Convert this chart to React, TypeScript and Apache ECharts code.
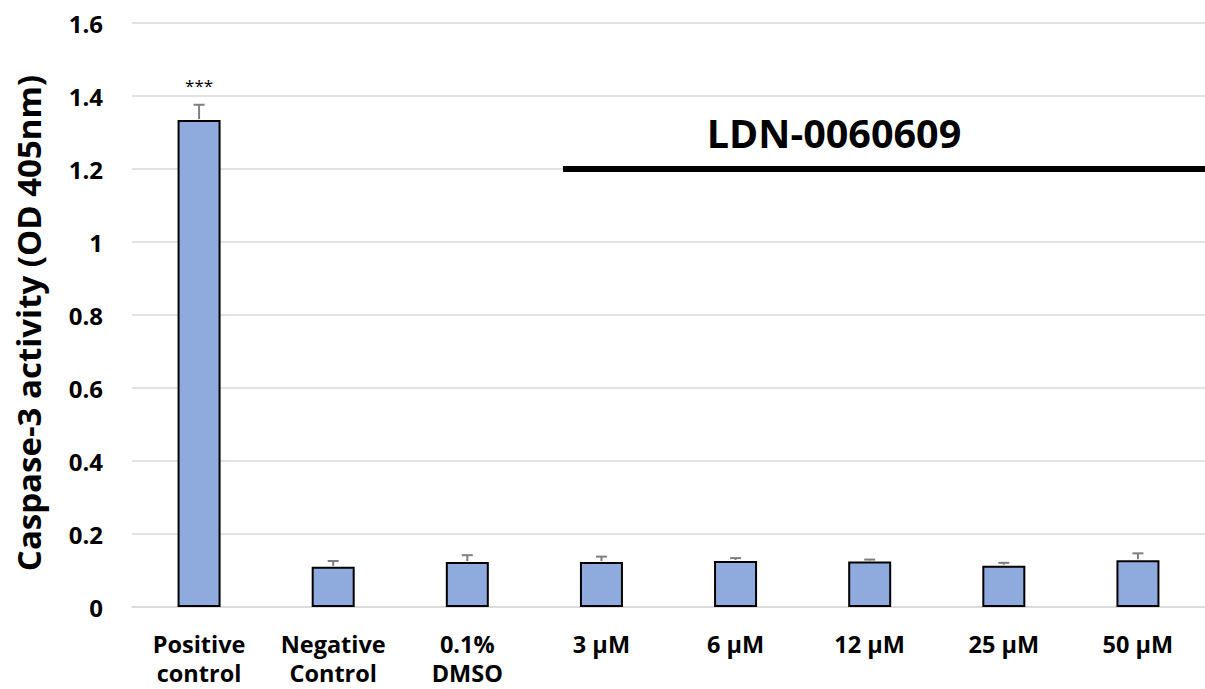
import React, { useEffect, useRef } from "react";
import * as echarts from "echarts";

// Caspase-3 activity per treatment group (mean and SD, OD 405nm)
const categories = [
  "Positive\ncontrol",
  "Negative\nControl",
  "0.1%\nDMSO",
  "3 µM",
  "6 µM",
  "12 µM",
  "25 µM",
  "50 µM",
];
const means = [1.334, 0.11, 0.123, 0.123, 0.126, 0.125, 0.113, 0.128];
const errors = [0.042, 0.016, 0.019, 0.015, 0.008, 0.005, 0.008, 0.019];
const significance = ["***", "", "", "", "", "", "", ""];
const yTicks = { min: 0, max: 1.6, interval: 0.2 };
const compoundName = "LDN-0060609";
const yAxisTitle = "Caspase-3 activity (OD 405nm)";

const FONT = "'Open Sans', 'Noto Sans', sans-serif";

export default function App() {
  const ref = useRef<HTMLDivElement>(null);

  useEffect(() => {
    if (!ref.current) return;
    const chart = echarts.init(ref.current, null, { renderer: "svg" });

    const errorData = categories.map((_, i) => [i, means[i], errors[i]]);

    chart.setOption({
      animation: false,
      backgroundColor: "#ffffff",
      grid: { left: 132, right: 0, top: 23, bottom: 82 },
      xAxis: {
        type: "category",
        data: categories,
        axisLine: { show: true, lineStyle: { color: "#d9d9d9", width: 1.5 } },
        axisTick: { show: false },
        axisLabel: {
          interval: 0,
          margin: 22,
          color: "#000",
          fontFamily: FONT,
          fontWeight: "bold",
          fontSize: 23.5,
          lineHeight: 29,
          verticalAlign: "top",
        },
      },
      yAxis: {
        type: "value",
        min: yTicks.min,
        max: yTicks.max,
        interval: yTicks.interval,
        axisLine: { show: false },
        axisTick: { show: false },
        splitLine: { lineStyle: { color: "#d9d9d9", width: 1.5 } },
        axisLabel: {
          margin: 29,
          color: "#000",
          fontFamily: FONT,
          fontWeight: "bold",
          fontSize: 24,
        },
      },
      series: [
        {
          type: "bar",
          data: means,
          barWidth: 43,
          itemStyle: { color: "#8faadc", borderColor: "#000", borderWidth: 2 },
          z: 2,
        },
        {
          type: "custom",
          data: errorData,
          encode: { x: 0, y: 1 },
          z: 3,
          renderItem: (params: any, api: any) => {
            const i = api.value(0);
            const m = api.value(1);
            const e = api.value(2);
            const base = api.coord([i, m]);
            const top = api.coord([i, m + e]);
            const stroke = { stroke: "#7f7f7f", lineWidth: 2 };
            const children: any[] = [
              {
                type: "line",
                shape: { x1: base[0], y1: base[1] - 1, x2: top[0], y2: top[1] },
                style: stroke,
              },
              {
                type: "line",
                shape: { x1: top[0] - 5.5, y1: top[1], x2: top[0] + 5.5, y2: top[1] },
                style: stroke,
              },
            ];
            const mark = significance[params.dataIndex];
            if (mark) {
              children.push({
                type: "text",
                x: top[0],
                y: top[1] - 19,
                style: {
                  text: mark,
                  fill: "#000",
                  font: `17px ${FONT}`,
                  textAlign: "center",
                  textVerticalAlign: "middle",
                },
              });
            }
            return { type: "group", children };
          },
        },
      ],
      graphic: [
        {
          type: "text",
          x: 28,
          y: 323,
          z: 100,
          rotation: Math.PI / 2,
          style: {
            text: yAxisTitle,
            fill: "#000",
            font: `bold 33px ${FONT}`,
            textAlign: "center",
            textVerticalAlign: "middle",
          },
        },
        {
          type: "rect",
          z: 100,
          shape: { x: 563, y: 166, width: 642, height: 6 },
          style: { fill: "#000" },
        },
        {
          type: "text",
          x: 834,
          y: 133,
          z: 100,
          style: {
            text: compoundName,
            fill: "#000",
            font: `bold 39.5px ${FONT}`,
            textAlign: "center",
            textVerticalAlign: "middle",
          },
        },
      ],
    });

    return () => chart.dispose();
  }, []);

  return (
    <div
      ref={ref}
      style={{ position: "absolute", left: 0, top: 0, width: 1205, height: 689 }}
    />
  );
}
